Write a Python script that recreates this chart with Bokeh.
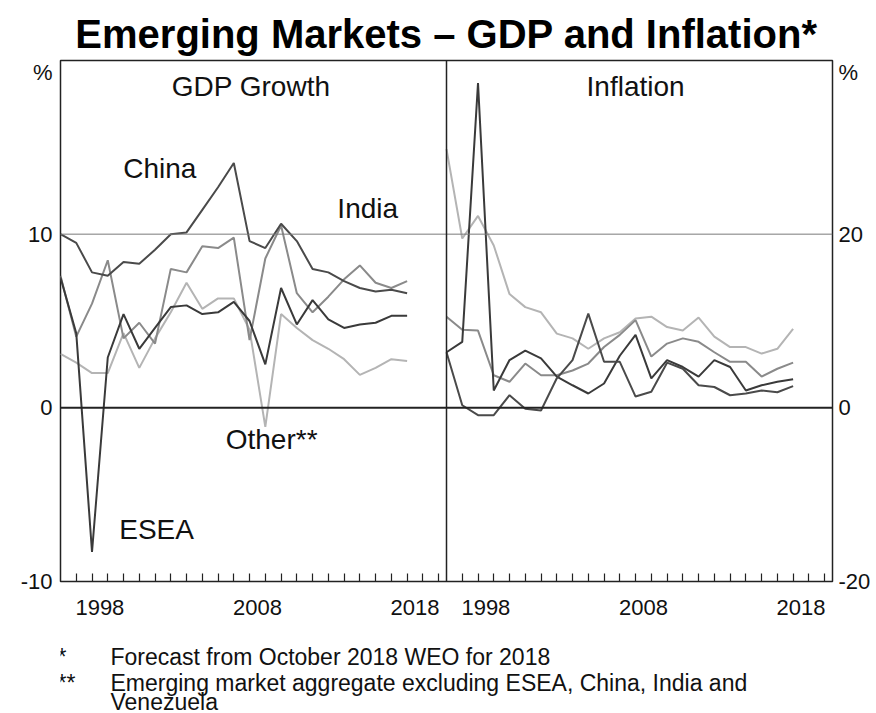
from bokeh.plotting import figure
from bokeh.layouts import column
from bokeh.models import Range1d, LinearAxis, FixedTicker, Span, Label
from bokeh.embed import file_html
from bokeh.resources import INLINE

# ---------------- data ----------------
years = list(range(1996, 2019))

# GDP growth, % (left panel)
china_gdp = [10.0, 9.5, 7.8, 7.6, 8.4, 8.3, 9.1, 10.0, 10.1, 11.4, 12.7, 14.1,
             9.6, 9.2, 10.6, 9.6, 8.0, 7.8, 7.3, 6.9, 6.7, 6.8, 6.6]
india_gdp = [7.6, 4.1, 6.0, 8.5, 4.0, 4.9, 3.7, 8.0, 7.8, 9.3, 9.2, 9.8,
             3.9, 8.6, 10.5, 6.6, 5.5, 6.4, 7.4, 8.2, 7.2, 6.9, 7.3]
esea_gdp = [7.5, 4.3, -8.3, 2.9, 5.4, 3.4, 4.6, 5.8, 5.9, 5.4, 5.5, 6.1,
            5.0, 2.5, 6.9, 4.8, 6.2, 5.1, 4.6, 4.8, 4.9, 5.3, 5.3]
other_gdp = [3.1, 2.6, 2.0, 2.0, 4.3, 2.3, 4.0, 5.5, 7.2, 5.7, 6.3, 6.3,
             4.5, -1.1, 5.4, 4.6, 3.9, 3.4, 2.8, 1.9, 2.3, 2.8, 2.7]

# Inflation, % (right panel)
china_inf = [6.4, 0.3, -0.85, -0.85, 1.45, -0.1, -0.3, 3.4, 5.5, 10.85, 5.3, 5.3,
             1.3, 1.85, 5.2, 4.5, 2.6, 2.4, 1.45, 1.65, 2.0, 1.8, 2.5]
esea_inf = [6.4, 7.6, 37.4, 2.0, 5.5, 6.6, 5.7, 3.6, 2.6, 1.65, 2.8, 6.0,
            8.4, 3.4, 5.5, 4.7, 3.6, 5.5, 4.7, 2.0, 2.6, 3.0, 3.3]
india_inf = [10.5, 9.0, 8.9, 3.75, 3.0, 5.1, 3.75, 3.75, 4.3, 5.1, 7.0, 8.4,
             10.1, 5.9, 7.4, 8.0, 7.6, 6.4, 5.3, 5.3, 3.6, 4.5, 5.2]
other_inf = [29.8, 19.5, 22.1, 18.7, 13.1, 11.6, 11.0, 8.55, 8.0, 6.8, 8.0, 8.7,
             10.3, 10.5, 9.3, 8.9, 10.4, 8.2, 7.0, 7.0, 6.25, 6.8, 9.1]

label_years = [1998, 2008, 2018]
minor_years = list(range(1997, 2021))
gdp_ticks = [-10, 0, 10]
inf_ticks = [-20, 0, 20]

notes = [("*", "Forecast from October 2018 WEO for 2018"),
         ("**", "Emerging market aggregate excluding ESEA, China, India and"),
         ("", "Venezuela")]

# ---------------- layout / style ----------------
FONT = "Liberation Sans"
X0 = 1996
PANEL = 24.5          # years shown in each panel
C_CHINA = "#4a4a4a"
C_ESEA = "#3a3a3a"
C_INDIA = "#8a8a8a"
C_OTHER = "#b4b4b4"
LW = 2
FRAME_L, FRAME_R = 60, 832   # page pixels of the plot frame

p = figure(width=876, height=626,
           x_range=Range1d(X0, X0 + 2 * PANEL), y_range=Range1d(-10, 20),
           output_backend="svg", toolbar_location=None,
           min_border_left=FRAME_L, min_border_right=876 - FRAME_R,
           min_border_top=60, min_border_bottom=45)
p.extra_x_ranges = {"infl": Range1d(X0 - PANEL, X0 + PANEL)}
p.extra_y_ranges = {"infl": Range1d(-20, 40)}

p.xgrid.visible = False
p.ygrid.visible = False
p.outline_line_color = "#222222"
p.outline_line_width = 1.5
p.background_fill_color = "white"
p.border_fill_color = "white"

# title
p.title.text = "Emerging Markets \u2013 GDP and Inflation*"
p.title.align = "center"
p.title.text_font = FONT
p.title.text_font_size = "40px"
p.title.text_font_style = "bold"
p.title.text_color = "black"
p.title.standoff = 10

# x axis (shared, covers both panels)
major = [y + 0.5 for y in label_years] + [y + 0.5 + PANEL for y in label_years]
minor = minor_years + [y + PANEL for y in minor_years]
overrides = {}
for y in label_years:
    overrides[y + 0.5] = str(y)
    overrides[y + 0.5 + PANEL] = str(y)
xa = p.xaxis[0]
xa.ticker = FixedTicker(ticks=major, minor_ticks=minor)
xa.major_label_overrides = overrides
xa.axis_line_color = None
xa.major_tick_line_color = None
xa.major_tick_in = 0
xa.major_tick_out = 0
xa.minor_tick_in = 8
xa.minor_tick_out = 0
xa.minor_tick_line_color = "#222222"
xa.minor_tick_line_width = 1.2
xa.major_label_standoff = 18
xa.major_label_text_font = FONT
xa.major_label_text_font_size = "22px"
xa.major_label_text_color = "#111111"

def style_y(ax, standoff):
    ax.axis_line_color = None
    ax.major_tick_line_color = None
    ax.minor_tick_line_color = None
    ax.major_tick_in = 0
    ax.major_tick_out = 0
    ax.minor_tick_in = 0
    ax.minor_tick_out = 0
    ax.major_label_standoff = standoff
    ax.major_label_text_font = FONT
    ax.major_label_text_font_size = "22px"
    ax.major_label_text_color = "#111111"

# left y axis
ya = p.yaxis[0]
ya.ticker = FixedTicker(ticks=gdp_ticks + [19.3])
lo = {t: str(t) for t in gdp_ticks}
lo[19.3] = "%"
ya.major_label_overrides = lo
style_y(ya, 8)

# right y axis
ra = LinearAxis(y_range_name="infl", ticker=FixedTicker(ticks=inf_ticks + [38.6]))
ro = {t: str(t) for t in inf_ticks}
ro[38.6] = "%"
ra.major_label_overrides = ro
style_y(ra, 6)
p.add_layout(ra, "right")

# reference lines
p.add_layout(Span(location=10, dimension="width", line_color="#7a7a7a", line_width=1))
p.add_layout(Span(location=0, dimension="width", line_color="#222222", line_width=2))
p.add_layout(Span(location=X0 + PANEL, dimension="height", line_color="#222222", line_width=1.5))

# GDP lines
p.line(years, other_gdp, line_color=C_OTHER, line_width=LW)
p.line(years, india_gdp, line_color=C_INDIA, line_width=LW)
p.line(years, esea_gdp, line_color=C_ESEA, line_width=LW)
p.line(years, china_gdp, line_color=C_CHINA, line_width=LW)

# inflation lines
p.line(years, other_inf, line_color=C_OTHER, line_width=LW, x_range_name="infl", y_range_name="infl")
p.line(years, india_inf, line_color=C_INDIA, line_width=LW, x_range_name="infl", y_range_name="infl")
p.line(years, esea_inf, line_color=C_ESEA, line_width=LW, x_range_name="infl", y_range_name="infl")
p.line(years, china_inf, line_color=C_CHINA, line_width=LW, x_range_name="infl", y_range_name="infl")

def lab(fig, x, y, text, size="28px", align="center", xr="default", yr="default"):
    fig.add_layout(Label(x=x, y=y, text=text, text_font=FONT, text_font_size=size,
                         text_align=align, text_baseline="middle", text_color="#111111",
                         x_range_name=xr, y_range_name=yr))

lab(p, 2008.1, 18.5, "GDP Growth")
lab(p, 2008.0, 18.5, "Inflation", xr="infl")
lab(p, 2002.3, 13.8, "China")
lab(p, 2015.5, 11.5, "India")
lab(p, 2009.4, -1.85, "Other**")
lab(p, 2002.1, -7.0, "ESEA")

# footnotes in a small figure below; its frame is aligned with the main frame,
# so its x range is expressed in page pixels (y in pixels, pointing down)
NH = 87
nf = figure(width=876, height=NH, x_range=Range1d(FRAME_L, FRAME_R), y_range=Range1d(NH, 0),
            output_backend="svg", toolbar_location=None,
            min_border_left=FRAME_L, min_border_right=876 - FRAME_R,
            min_border_top=0, min_border_bottom=0)
nf.axis.visible = False
nf.xgrid.visible = False
nf.ygrid.visible = False
nf.outline_line_color = None
nf.border_fill_color = "white"
row_y = [30, 56, 75]
for (mark, txt), yy in zip(notes, row_y):
    if mark:
        lab(nf, 57, yy, mark, size="23px", align="left")
    lab(nf, 110, yy, txt, size="23px", align="left")

layout = column(p, nf, spacing=0)
open("out.html", "w").write(file_html(layout, INLINE))
